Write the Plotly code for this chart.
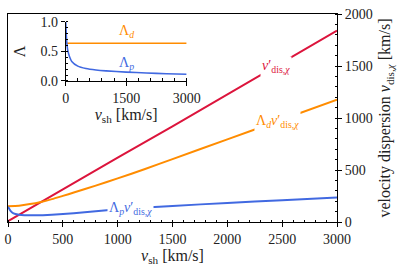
import plotly.graph_objects as go

# ---- main panel data (velocity dispersion, km/s) ----
v_red = [0, 500, 1000, 1500, 2000, 2500, 3000]
vdis = [8, 315, 620, 920, 1225, 1530, 1840]

v_orange = [0, 100, 200, 300, 400, 500, 600, 800, 1000, 1250, 1500, 2000, 2500, 3000]
lam_d_vdis = [152, 157, 172, 193, 220, 251, 283, 350, 419, 510, 605, 795, 985, 1175]

v_blue = [0, 25, 50, 100, 150, 250, 400, 600, 850, 1000, 1250, 1500, 2000, 2500, 3000]
lam_p_vdis = [147, 105, 83, 70, 65, 64, 70, 85, 109, 120, 139, 155, 183, 210, 236]

# ---- inset data (Lambda) ----
v_inset_d = [0, 3000]
lam_d = [0.636, 0.636]
v_inset_p = [0, 10, 25, 50, 100, 150, 300, 500, 750, 1000, 1500, 2000, 2500, 3000]
lam_p = [1.0, 0.85, 0.66, 0.52, 0.40, 0.33, 0.25, 0.21, 0.185, 0.17, 0.15, 0.135, 0.122, 0.113]

main_ticks = [0, 500, 1000, 1500, 2000, 2500, 3000]
right_ticks = [0, 500, 1000, 1500, 2000]
inset_xticks = [0, 1500, 3000]
inset_yticks = [0, 0.5, 1.0]
inset_yticklabels = ["0.0", "0.5", "1.0"]

RED = "#DC143C"
ORANGE = "#FF8C00"
BLUE = "#4169E1"
FONT = "Liberation Serif"

fig = go.Figure()
fig.add_trace(go.Scatter(x=v_red, y=vdis, mode="lines", line=dict(color=RED, width=2),
                         xaxis="x", yaxis="y"))
fig.add_trace(go.Scatter(x=v_orange, y=lam_d_vdis, mode="lines",
                         line=dict(color=ORANGE, width=2, shape="spline", smoothing=0.6),
                         xaxis="x", yaxis="y"))
fig.add_trace(go.Scatter(x=v_blue, y=lam_p_vdis, mode="lines",
                         line=dict(color=BLUE, width=2, shape="spline", smoothing=0.6),
                         xaxis="x", yaxis="y"))
fig.add_trace(go.Scatter(x=v_inset_d, y=lam_d, mode="lines", line=dict(color=ORANGE, width=1.6),
                         xaxis="x2", yaxis="y2"))
fig.add_trace(go.Scatter(x=v_inset_p, y=lam_p, mode="lines",
                         line=dict(color=BLUE, width=1.6, shape="spline", smoothing=0.6),
                         xaxis="x2", yaxis="y2"))

axis_common = dict(showgrid=False, zeroline=False, showline=True, linecolor="black",
                   linewidth=1, ticks="outside", ticklen=4, tickcolor="black",
                   automargin=False, tickfont=dict(family=FONT, size=14, color="#222"))

fig.update_layout(
    width=407, height=271,
    margin=dict(l=8, r=70, t=14, b=49),
    paper_bgcolor="white", plot_bgcolor="white",
    showlegend=False,
    font=dict(family=FONT, size=14, color="#222"),
    xaxis=dict(**axis_common, range=[0, 3000], domain=[0, 1], anchor="y",
               tickvals=main_ticks, mirror=True,
               minor=dict(ticks="inside", dtick=100, ticklen=2.5, tickcolor="black"),
               title=dict(text="<i>v</i><sub>sh</sub> [km/s]", standoff=2,
                          font=dict(family=FONT, size=16))),
    yaxis=dict(**axis_common, range=[0, 2000], domain=[0, 1], anchor="x", side="right",
               tickvals=right_ticks, mirror=True,
               minor=dict(ticks="inside", dtick=100, ticklen=2.5, tickcolor="black"),
               title=dict(text="velocity dispersion <i>v</i><sub>dis,<i>χ</i></sub> [km/s]",
                          standoff=7, font=dict(family=FONT, size=16))),
    xaxis2=dict(**axis_common, range=[0, 3000], domain=[0.1754, 0.543], anchor="y2",
                tickvals=inset_xticks,
                minor=dict(ticks="inside", dtick=300, ticklen=2.5, tickcolor="black"),
                title=dict(text="<i>v</i><sub>sh</sub> [km/s]", standoff=2,
                           font=dict(family=FONT, size=16))),
    yaxis2=dict(**axis_common, range=[0, 1], domain=[0.678, 0.963], anchor="x2",
                tickvals=inset_yticks, ticktext=inset_yticklabels,
                minor=dict(ticks="inside", dtick=0.1, ticklen=2.5, tickcolor="black"),
                title=dict(text="Λ", standoff=10, font=dict(family=FONT, size=16))),
)

annots = [
    dict(x=2440, y=1498, xref="x", yref="y", text="<i>v</i>′<sub>dis,<i>χ</i></sub>",
         font=dict(color=RED, size=14, family=FONT)),
    dict(x=2453, y=964, xref="x", yref="y",
         text="Λ<sub><i>d</i></sub><i>v</i>′<sub>dis,<i>χ</i></sub>",
         font=dict(color=ORANGE, size=14, family=FONT)),
    dict(x=1113, y=130, xref="x", yref="y",
         text="Λ<sub><i>p</i></sub><i>v</i>′<sub>dis,<i>χ</i></sub>",
         font=dict(color=BLUE, size=14, family=FONT)),
]
for a in annots:
    fig.add_annotation(**a, showarrow=False, bgcolor="white", borderpad=1)

fig.add_annotation(x=1512, y=0.84, xref="x2", yref="y2", text="Λ<sub><i>d</i></sub>",
                   showarrow=False, font=dict(color=ORANGE, size=14, family=FONT))
fig.add_annotation(x=1512, y=0.30, xref="x2", yref="y2", text="Λ<sub><i>p</i></sub>",
                   showarrow=False, font=dict(color=BLUE, size=14, family=FONT))

fig.write_html("out.html", config={"displayModeBar": False})

# remove the browser's default body margin so the figure sits at the window origin
with open("out.html", "r", encoding="utf-8") as f:
    html = f.read()
html = html.replace("<head>", "<head><style>html,body{margin:0;padding:0;overflow:hidden;}</style>", 1)
with open("out.html", "w", encoding="utf-8") as f:
    f.write(html)
